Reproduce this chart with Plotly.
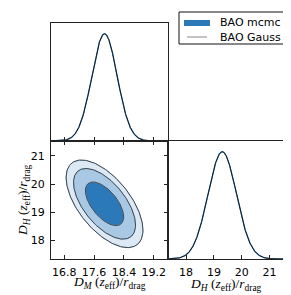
import numpy as np
import plotly.graph_objects as go

# ---- data ----
PARAM_LABELS = [
    "<i>D</i><sub><i>M</i></sub> (<i>z</i><sub>eff</sub>)/<i>r</i><sub>drag</sub>",
    "<i>D</i><sub><i>H</i></sub> (<i>z</i><sub>eff</sub>)/<i>r</i><sub>drag</sub>",
]
MEAN_DM = 17.88
MEAN_DH = 19.30
SIGMA_DM = 0.34
SIGMA_DH = 0.51
RHO = -0.6
CONTOUR_PROBS = [0.99, 0.95, 0.68]
DM_TICKS = [16.8, 17.6, 18.4, 19.2]
DM_TICKTEXT = ["16.8", "17.6", "18.4", "19.2"]
DH_TICKS = [18, 19, 20, 21]
DH_TICKTEXT = ["18", "19", "20", "21"]
DM_RANGE = [16.443, 19.584]
DH_RANGE = [17.35, 21.52]
LEGEND_NAMES = ["BAO mcmc", "BAO Gauss"]

# ---- styles ----
FILL_COLORS = ["#dce9f4", "#a9c8e4", "#2b79b8"]
MCMC_BLUE = "#2b79b8"
LINE_BLACK = "#111111"
W, H = 291, 295


def px(x):
    return x / W


def py(y):
    return 1 - y / H


def gauss1d(x, mu, s):
    return np.exp(-0.5 * ((x - mu) / s) ** 2)


def ellipse(prob, n=200):
    k = -2.0 * np.log(1.0 - prob)
    cov = np.array([[SIGMA_DM ** 2, RHO * SIGMA_DM * SIGMA_DH],
                    [RHO * SIGMA_DM * SIGMA_DH, SIGMA_DH ** 2]])
    L = np.linalg.cholesky(cov)
    t = np.linspace(0, 2 * np.pi, n)
    circ = np.sqrt(k) * np.vstack([np.cos(t), np.sin(t)])
    pts = L @ circ
    return MEAN_DM + pts[0], MEAN_DH + pts[1]


fig = go.Figure()

# 1D D_M (top-left)
xm = np.linspace(DM_RANGE[0], DM_RANGE[1], 400)
fig.add_trace(go.Scatter(x=xm, y=gauss1d(xm, MEAN_DM, SIGMA_DM), mode="lines",
                         line=dict(color=MCMC_BLUE, width=1.3), xaxis="x", yaxis="y",
                         showlegend=False, hoverinfo="skip"))
fig.add_trace(go.Scatter(x=xm, y=gauss1d(xm, MEAN_DM, SIGMA_DM), mode="lines",
                         line=dict(color=LINE_BLACK, width=0.9), xaxis="x", yaxis="y",
                         showlegend=False, hoverinfo="skip"))

# 2D contours (bottom-left)
for prob, col in zip(CONTOUR_PROBS, FILL_COLORS):
    ex, ey = ellipse(prob)
    fig.add_trace(go.Scatter(x=ex, y=ey, mode="lines", fill="toself", fillcolor=col,
                             line=dict(color="#8fb6db", width=1.0), xaxis="x2", yaxis="y2",
                             showlegend=False, hoverinfo="skip"))
for prob in CONTOUR_PROBS:
    ex, ey = ellipse(prob)
    fig.add_trace(go.Scatter(x=ex, y=ey, mode="lines",
                             line=dict(color="#2a2a2a", width=0.8), xaxis="x2", yaxis="y2",
                             showlegend=False, hoverinfo="skip"))

# 1D D_H (bottom-right)
xh = np.linspace(DH_RANGE[0], DH_RANGE[1], 400)
fig.add_trace(go.Scatter(x=xh, y=gauss1d(xh, MEAN_DH, SIGMA_DH), mode="lines",
                         line=dict(color=MCMC_BLUE, width=1.3), xaxis="x3", yaxis="y3",
                         showlegend=False, hoverinfo="skip"))
fig.add_trace(go.Scatter(x=xh, y=gauss1d(xh, MEAN_DH, SIGMA_DH), mode="lines",
                         line=dict(color=LINE_BLACK, width=0.9), xaxis="x3", yaxis="y3",
                         showlegend=False, hoverinfo="skip"))

axis_common = dict(showgrid=False, zeroline=False, showline=True, linecolor="#222222",
                   linewidth=1, ticklen=4, tickwidth=1, tickcolor="#222222",
                   tickfont=dict(family="DejaVu Sans", size=11, color="#000000"))

fig.update_layout(
    width=W, height=H, margin=dict(l=0, r=0, t=0, b=0),
    paper_bgcolor="white", plot_bgcolor="white", showlegend=False,
    xaxis=dict(domain=[px(43), px(160)], anchor="y", range=DM_RANGE, ticks="inside",
               tickvals=DM_TICKS, showticklabels=False, mirror=True, **axis_common),
    yaxis=dict(domain=[py(133), py(15)], anchor="x", range=[0, 1.1], ticks="",
               showticklabels=False, mirror=True, **axis_common),
    xaxis2=dict(domain=[px(43), px(160)], anchor="y2", range=DM_RANGE, ticks="inside",
                ticklabelstandoff=3,
                tickvals=DM_TICKS, ticktext=DM_TICKTEXT, mirror="ticks", **axis_common),
    yaxis2=dict(domain=[py(251), py(133)], anchor="x2", range=DH_RANGE, ticks="inside",
                ticklabelstandoff=3,
                tickvals=DH_TICKS, ticktext=DH_TICKTEXT, mirror="ticks", **axis_common),
    xaxis3=dict(domain=[px(160), px(276)], anchor="y3", range=DH_RANGE, ticks="inside",
                ticklabelstandoff=3,
                tickvals=DH_TICKS, ticktext=DH_TICKTEXT, mirror=True, **axis_common),
    yaxis3=dict(domain=[py(251), py(133)], anchor="x3", range=[0, 1.1], ticks="",
                showticklabels=False, mirror=True, **axis_common),
)

title_font = dict(family="Liberation Serif", size=13.5, color="#000000")
fig.add_annotation(x=px(101), y=py(274), xref="paper", yref="paper", text=PARAM_LABELS[0],
                   showarrow=False, font=title_font, xanchor="center", yanchor="middle")
fig.add_annotation(x=px(218), y=py(276), xref="paper", yref="paper", text=PARAM_LABELS[1],
                   showarrow=False, font=title_font, xanchor="center", yanchor="middle")
fig.add_annotation(x=px(15), y=py(192), xref="paper", yref="paper", text=PARAM_LABELS[1],
                   showarrow=False, font=title_font, textangle=-90,
                   xanchor="center", yanchor="middle")

# legend (drawn manually)
fig.add_shape(type="rect", xref="paper", yref="paper", x0=px(171), x1=px(286),
              y0=py(36), y1=py(4), line=dict(color="#111111", width=1), fillcolor="white")
fig.add_shape(type="rect", xref="paper", yref="paper", x0=px(176), x1=px(202),
              y0=py(18), y1=py(12), line=dict(width=0), fillcolor=MCMC_BLUE)
fig.add_shape(type="line", xref="paper", yref="paper", x0=px(179), x1=px(199),
              y0=py(29), y1=py(29), line=dict(color="#888888", width=1))
leg_font = dict(family="DejaVu Sans", size=11, color="#000000")
fig.add_annotation(x=px(210), y=py(15), xref="paper", yref="paper", text=LEGEND_NAMES[0],
                   showarrow=False, font=leg_font, xanchor="left", yanchor="middle")
fig.add_annotation(x=px(210), y=py(29), xref="paper", yref="paper", text=LEGEND_NAMES[1],
                   showarrow=False, font=leg_font, xanchor="left", yanchor="middle")

fig.write_html("out.html")
